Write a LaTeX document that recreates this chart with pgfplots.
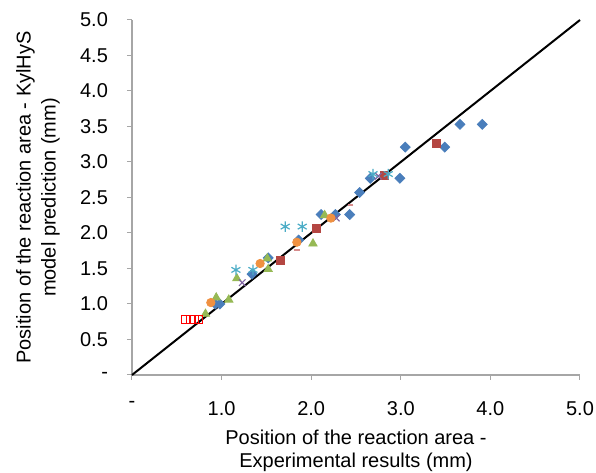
\documentclass[border=0pt]{standalone}
\usepackage{pgfplots}
\pgfplotsset{compat=1.18}
\usepackage{fontspec}
\setmainfont{Liberation Sans}
\definecolor{sblue}{RGB}{74,126,187}
\definecolor{sred}{RGB}{180,70,66}
\definecolor{sgreen}{RGB}{150,185,85}
\definecolor{spurple}{RGB}{128,100,162}
\definecolor{scyan}{RGB}{75,172,198}
\definecolor{sorange}{RGB}{240,145,65}
\definecolor{spink}{RGB}{215,140,140}
\begin{document}
\begin{tikzpicture}
\begin{axis}[
    scale only axis,
    width=224pt,
    height=177.5pt,
    xmin=0,xmax=5,ymin=0,ymax=5,
    axis x line=bottom,
    axis y line=left,
    axis line style={-,draw=gray!70,line width=0.8pt},
    tick style={draw=gray!70,line width=0.5pt},
    tick align=outside,
    major tick length=2.5pt,
    xtick={0,1,2,3,4,5},
    xticklabels={-,1.0,2.0,3.0,4.0,5.0},
    ytick={0,0.5,1,1.5,2,2.5,3,3.5,4,4.5,5},
    yticklabels={-,0.5,1.0,1.5,2.0,2.5,3.0,3.5,4.0,4.5,5.0},
    tick label style={font=\fontsize{10}{12}\selectfont},
    xticklabel style={yshift=-7pt},
    yticklabel style={xshift=-6pt},
    xlabel={Position of the reaction area -\\Experimental results (mm)},
    ylabel={Position of the reaction area - KylHyS\\model prediction (mm)},
    xlabel style={font=\fontsize{10}{11.3}\selectfont,align=center,
        at={([yshift=-38pt]axis description cs:0.5,0)},anchor=center},
    ylabel style={font=\fontsize{10}{12.5}\selectfont,align=center,
        at={([xshift=-47pt]axis description cs:0,0.5)},anchor=center,rotate=0},
    clip=false,
]
\addplot[black,line width=1pt] coordinates {(0,0) (5,5)};
% blue diamonds
\addplot[only marks,mark=square*,mark size=1.75pt,mark options={rotate=45},color=sblue] coordinates {
(0.93,1.00) (0.98,1.00) (1.34,1.42) (1.52,1.65) (1.86,1.90) (2.11,2.26)
(2.27,2.26) (2.43,2.26) (2.54,2.57) (2.66,2.77) (2.99,2.77) (3.05,3.21)
(3.49,3.21) (3.66,3.53) (3.91,3.53)};
% red squares
\addplot[only marks,mark=square*,mark size=2pt,color=sred] coordinates {
(1.66,1.62) (2.06,2.06) (2.82,2.81) (3.40,3.26)};
% green triangles
\addplot[only marks,mark=triangle*,mark size=2.4pt,color=sgreen] coordinates {
(0.82,0.86) (0.94,1.09) (1.08,1.06) (1.17,1.36) (1.52,1.49) (1.51,1.64)
(2.02,1.85) (2.15,2.25)};
% purple crosses
\addplot[only marks,mark=x,mark size=2.3pt,color=spurple,line width=0.6pt] coordinates {
(1.23,1.30) (2.28,2.21) (2.75,2.80)};
% cyan asterisks
\addplot[only marks,mark=asterisk,mark size=2.6pt,color=scyan,line width=0.6pt] coordinates {
(1.16,1.48) (1.35,1.48) (1.71,2.09) (1.90,2.09) (2.69,2.83) (2.86,2.83)};
% orange circles
\addplot[only marks,mark=*,mark size=2.1pt,color=sorange] coordinates {
(0.88,1.02) (1.43,1.57) (1.84,1.87) (2.22,2.21)};
% pink dashes
\addplot[only marks,mark=-,mark size=1.4pt,color=spink,line width=1.2pt] coordinates {
(1.84,1.76) (2.44,2.39)};
% red open squares
\addplot[only marks,mark=square,mark size=1.9pt,color=red,line width=0.5pt] coordinates {
(0.60,0.78) (0.65,0.78) (0.70,0.78) (0.75,0.78)};
\end{axis}
\pgfresetboundingbox
\path ([shift={(-66pt,-49pt)}]current axis.south west) rectangle ([shift={(8pt,10pt)}]current axis.north east);
\end{tikzpicture}
\end{document}
